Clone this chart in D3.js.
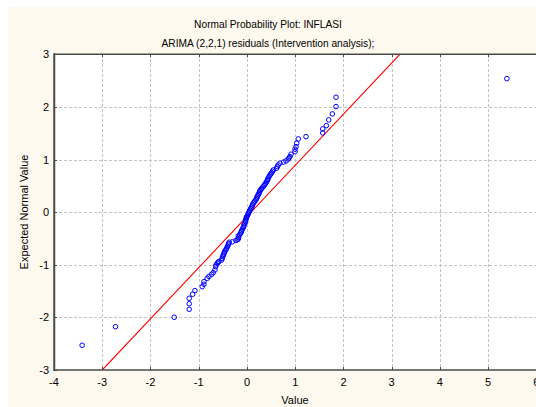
<!DOCTYPE html>
<meta charset="utf-8">
<style>
  body { margin: 0; background: white; }
  svg { display: block; }
  text { font-family: "Liberation Sans", Arial, sans-serif; fill: black; }
  .grid line { stroke: #c4c4c4; stroke-dasharray: 3,2; shape-rendering: crispEdges; }
</style>
<div id="chart"></div>
<script src="https://cdnjs.cloudflare.com/ajax/libs/d3/7.8.5/d3.min.js"></script>
<script>
  var W = 536, H = 407;

  var titleText = "Normal Probability Plot: INFLASI";
  var subtitleText = "ARIMA (2,2,1) residuals (Intervention analysis);";
  var xLabel = "Value", yLabel = "Expected Normal Value";

  var xTicks = [-4, -3, -2, -1, 0, 1, 2, 3, 4, 5, 6];
  var yTicks = [-3, -2, -1, 0, 1, 2, 3];

  // residual values (x) and expected normal values (y)
  var residuals = [
    -3.417, -2.724, -1.508, -1.197, -1.197, -1.197, -1.127, -1.079, -0.927, -0.892,
    -0.892, -0.824, -0.788, -0.732, -0.699, -0.664, -0.649, -0.640, -0.616, -0.598,
    -0.581, -0.525, -0.512, -0.504, -0.492, -0.477, -0.470, -0.456, -0.436, -0.421,
    -0.405, -0.388, -0.380, -0.367, -0.305, -0.228, -0.200, -0.180, -0.172, -0.180,
    -0.152, -0.131, -0.118, -0.110, -0.094, -0.077, -0.066, -0.062, -0.045, -0.027,
    -0.030, -0.021, -0.010, -0.006, 0.012, 0.027, 0.036, 0.048, 0.060, 0.077,
    0.094, 0.110, 0.118, 0.131, 0.150, 0.166, 0.186, 0.201, 0.210, 0.222,
    0.238, 0.249, 0.262, 0.270, 0.290, 0.305, 0.332, 0.353, 0.370, 0.388,
    0.404, 0.421, 0.432, 0.442, 0.460, 0.477, 0.497, 0.512, 0.530, 0.546,
    0.616, 0.630, 0.649, 0.685, 0.760, 0.809, 0.857, 0.875, 0.892, 0.913,
    0.996, 0.996, 1.017, 1.031, 1.064, 1.224, 1.571, 1.571, 1.645, 1.695,
    1.770, 1.846, 1.846, 5.388
  ];
  var expected = [
    -2.530, -2.177, -1.998, -1.846, -1.740, -1.637, -1.561, -1.492, -1.416, -1.371,
    -1.321, -1.257, -1.222, -1.181, -1.150, -1.099, -1.036, -1.003, -0.971, -0.952,
    -0.937, -0.909, -0.878, -0.846, -0.820, -0.795, -0.767, -0.738, -0.712, -0.686,
    -0.655, -0.624, -0.598, -0.572, -0.565, -0.538, -0.524, -0.510, -0.481, -0.452,
    -0.427, -0.401, -0.376, -0.352, -0.323, -0.295, -0.269, -0.243, -0.212, -0.181,
    -0.155, -0.129, -0.108, -0.086, -0.060, -0.034, -0.012, 0.010, 0.038, 0.067,
    0.092, 0.118, 0.143, 0.169, 0.191, 0.213, 0.238, 0.264, 0.289, 0.314,
    0.336, 0.359, 0.384, 0.409, 0.431, 0.454, 0.479, 0.504, 0.526, 0.549,
    0.574, 0.599, 0.624, 0.650, 0.678, 0.707, 0.729, 0.751, 0.776, 0.802,
    0.835, 0.866, 0.897, 0.930, 0.952, 0.973, 1.011, 1.033, 1.055, 1.101,
    1.150, 1.196, 1.245, 1.310, 1.392, 1.435, 1.506, 1.582, 1.644, 1.753,
    1.867, 2.006, 2.184, 2.538
  ];

  // reference line endpoints (value, expected)
  var fitX = [-3.0, 3.17];
  var fitY = [-3.0, 3.0];

  var points = residuals.map(function(v, i) { return {x: v, y: expected[i]}; });

  var pLeft = 54, pTop = 54.3, pBottom = 370, pRight = 536.4;

  var xScale = d3.scaleLinear().domain([-4, 6]).range([pLeft, pRight]);
  var yScale = d3.scaleLinear().domain([-3, 3]).range([pBottom, pTop]);

  var svg = d3.select("#chart").append("svg")
    .attr("width", W).attr("height", H);

  // cream panel
  svg.append("rect").attr("x", 8).attr("y", 7)
    .attr("width", W - 8).attr("height", H - 7).attr("fill", "#fdf9ee");

  svg.append("defs").append("clipPath").attr("id", "clip")
    .append("rect").attr("x", pLeft).attr("y", pTop)
    .attr("width", pRight - pLeft + 2).attr("height", pBottom - pTop);

  // plot area
  svg.append("rect").attr("x", pLeft).attr("y", pTop)
    .attr("width", pRight - pLeft + 2).attr("height", pBottom - pTop)
    .attr("fill", "white");

  // grid
  var grid = svg.append("g").attr("class", "grid");
  grid.selectAll(".vx").data(xTicks.slice(1, -1)).enter().append("line")
    .attr("x1", function(d) { return Math.round(xScale(d)) + 0.5; })
    .attr("x2", function(d) { return Math.round(xScale(d)) + 0.5; })
    .attr("y1", pTop).attr("y2", pBottom);
  grid.selectAll(".hy").data(yTicks.slice(1, -1)).enter().append("line")
    .attr("y1", function(d) { return Math.round(yScale(d)) + 0.5; })
    .attr("y2", function(d) { return Math.round(yScale(d)) + 0.5; })
    .attr("x1", pLeft).attr("x2", pRight + 2);

  var plot = svg.append("g").attr("clip-path", "url(#clip)");

  // red reference line
  plot.append("line")
    .attr("x1", xScale(fitX[0])).attr("y1", yScale(fitY[0]))
    .attr("x2", xScale(fitX[1])).attr("y2", yScale(fitY[1]))
    .attr("stroke", "#ff0000").attr("stroke-width", 1.1);

  // points
  plot.selectAll("circle").data(points).enter().append("circle")
    .attr("cx", function(d) { return xScale(d.x); })
    .attr("cy", function(d) { return yScale(d.y); })
    .attr("r", 2.3)
    .attr("fill", "none")
    .attr("stroke", "#0000ff")
    .attr("stroke-width", 1);

  // frame
  var axisCol = "#4a4a4a";
  svg.append("line").attr("x1", pLeft - 0.5).attr("x2", pLeft - 0.5)
    .attr("y1", pTop - 1).attr("y2", pBottom + 1)
    .attr("stroke", "#8a8070").attr("stroke-width", 1);
  svg.append("line").attr("x1", pLeft + 0.5).attr("x2", pLeft + 0.5)
    .attr("y1", pTop - 1).attr("y2", pBottom + 1)
    .attr("stroke", axisCol).attr("stroke-width", 1.5);
  svg.append("line").attr("x1", pLeft).attr("x2", W)
    .attr("y1", pTop).attr("y2", pTop)
    .attr("stroke", axisCol).attr("stroke-width", 1.5);
  svg.append("line").attr("x1", pLeft).attr("x2", W)
    .attr("y1", pBottom).attr("y2", pBottom)
    .attr("stroke", axisCol).attr("stroke-width", 1.5);

  // inward ticks
  var tk = svg.append("g").attr("stroke", axisCol).attr("stroke-width", 1);
  tk.selectAll(".tt").data(xTicks).enter().append("line")
    .attr("x1", function(d) { return Math.round(xScale(d)) + 0.5; })
    .attr("x2", function(d) { return Math.round(xScale(d)) + 0.5; })
    .attr("y1", pTop).attr("y2", pTop + 3);
  tk.selectAll(".tb").data(xTicks).enter().append("line")
    .attr("x1", function(d) { return Math.round(xScale(d)) + 0.5; })
    .attr("x2", function(d) { return Math.round(xScale(d)) + 0.5; })
    .attr("y1", pBottom).attr("y2", pBottom - 3);
  tk.selectAll(".tl").data(yTicks).enter().append("line")
    .attr("y1", function(d) { return Math.round(yScale(d)) + 0.5; })
    .attr("y2", function(d) { return Math.round(yScale(d)) + 0.5; })
    .attr("x1", pLeft).attr("x2", pLeft + 3);

  // tick labels
  svg.selectAll(".xl").data(xTicks).enter().append("text")
    .attr("x", function(d) { return xScale(d); })
    .attr("y", 386)
    .attr("text-anchor", "middle")
    .style("font-size", "11px")
    .text(function(d) { return d; });
  svg.selectAll(".yl").data(yTicks).enter().append("text")
    .attr("x", 49)
    .attr("y", function(d) { return yScale(d) + 4; })
    .attr("text-anchor", "end")
    .style("font-size", "11px")
    .text(function(d) { return d; });

  // titles
  svg.append("text").attr("x", 268).attr("y", 28)
    .attr("text-anchor", "middle").style("font-size", "10.2px").text(titleText);
  svg.append("text").attr("x", 268).attr("y", 47)
    .attr("text-anchor", "middle").style("font-size", "10.2px").text(subtitleText);
  svg.append("text").attr("x", 295).attr("y", 404)
    .attr("text-anchor", "middle").style("font-size", "11px").text(xLabel);
  svg.append("text")
    .attr("transform", "translate(28,212) rotate(-90)")
    .attr("text-anchor", "middle").style("font-size", "11px").text(yLabel);
</script>
